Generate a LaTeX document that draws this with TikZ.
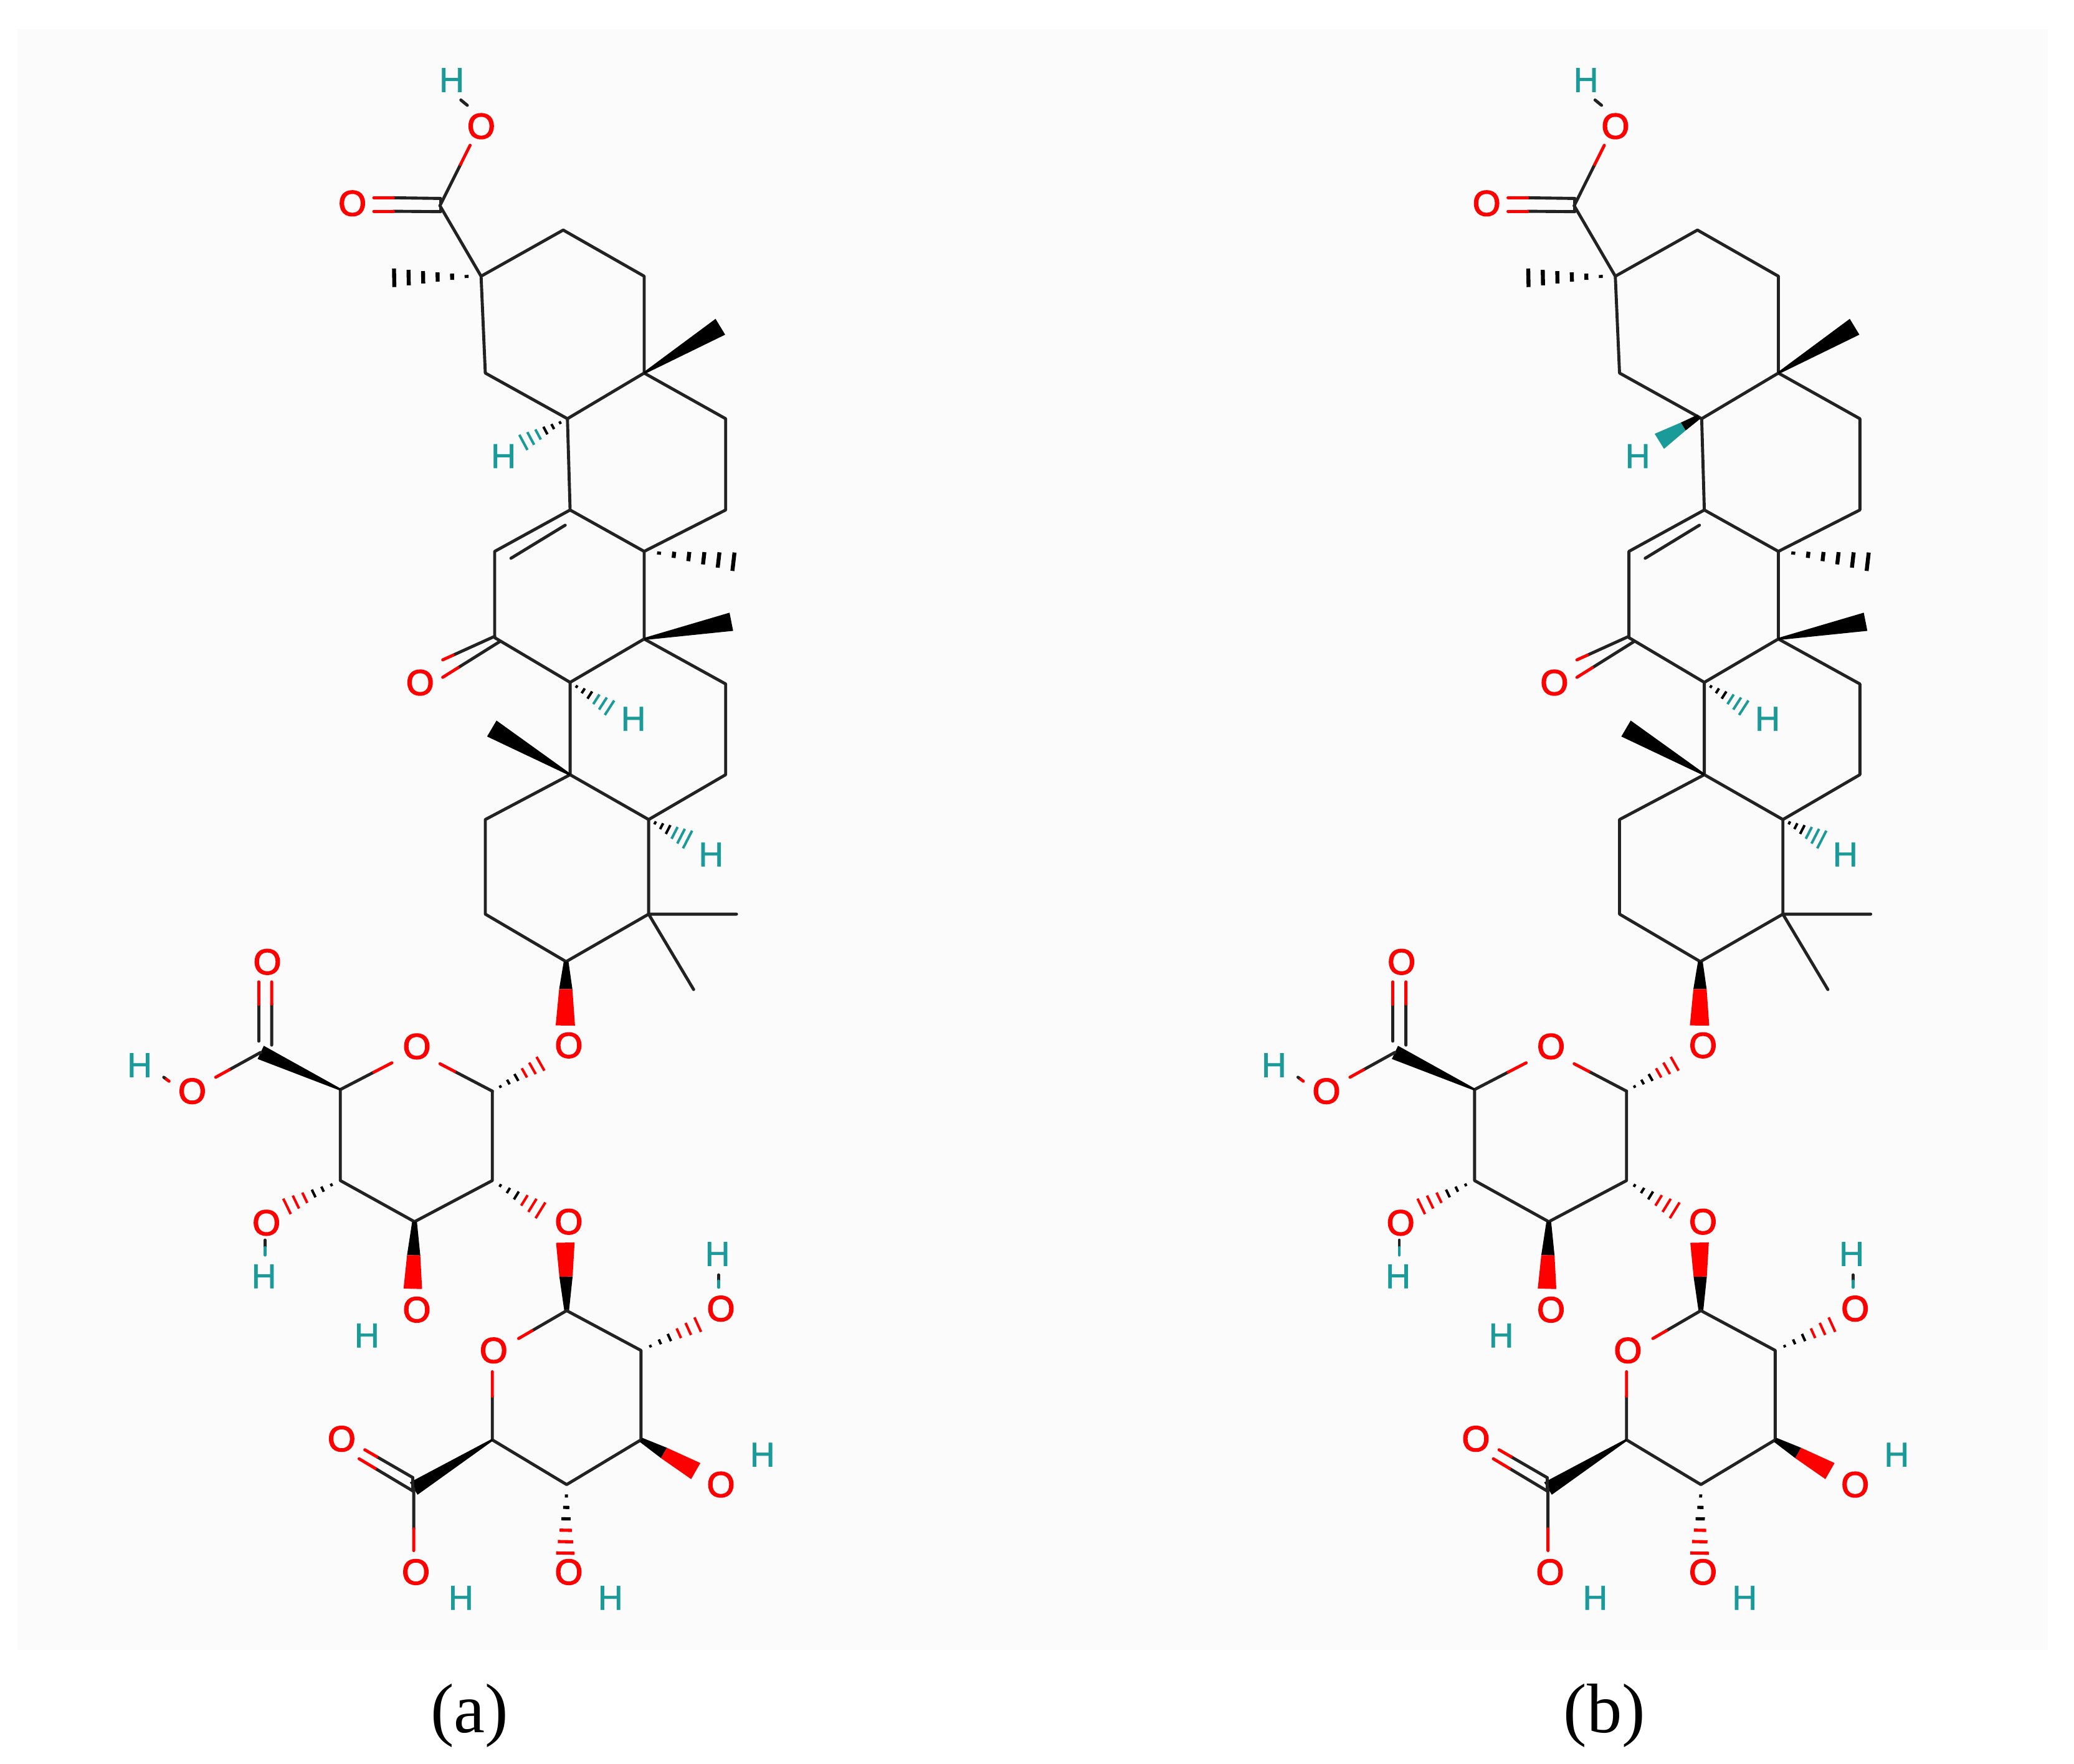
\documentclass[tikz,border=0pt]{standalone}
\usepackage{fontspec}
\setmainfont{Liberation Sans}
\newfontfamily\capfont{Liberation Serif}
\newfontfamily\ofont[FakeBold=3]{Liberation Sans}
\newfontfamily\hfont[FakeBold=1.2]{Liberation Sans}
\usetikzlibrary{calc}
\definecolor{panelc}{HTML}{FBFBFB}
\definecolor{bondc}{HTML}{222222}
\definecolor{hteal}{HTML}{1B9A9A}
\definecolor{ored}{HTML}{FF0000}
\tikzset{
  bond/.style={line width=2.3pt,draw=bondc,line cap=round,line join=round},
  oatom/.style={inner sep=0pt,text=ored,font=\ofont\fontsize{27}{27}\selectfont},
  hatom/.style={inner sep=0pt,text=hteal,font=\hfont\fontsize{26}{26}\selectfont},
  captionlabel/.style={inner sep=0pt,text=black,font=\capfont\fontsize{53}{53}\selectfont}
}
% hashed wedge: from, to, half width, strokes, far colour, stroke width
\newcommand{\hashwedge}[6]{%
  \foreach \i in {1,...,#4}{%
    \pgfmathsetmacro\hf{\i/#4}%
    \pgfmathsetmacro\hw{(#3)*\hf}%
    \ifdim\hf pt>0.5pt\def\hc{#5}\else\def\hc{black}\fi
    \draw[draw=\hc,line width=#6] ($(#1)!\hf!(#2)!\hw pt!90:(#1)$) -- ($(#1)!\hf!(#2)!\hw pt!-90:(#1)$);
  }}
% solid wedge in one colour: from, to, half width
\newcommand{\solidwedge}[3]{%
  \fill[black] ($(#1)!0.8pt!90:(#2)$) -- ($(#2)!#3!-90:(#1)$) -- ($(#2)!#3!90:(#1)$) -- ($(#1)!0.8pt!-90:(#2)$) -- cycle;}
% solid wedge in two colours: from, to, half width, half width at the split, split fraction, far colour
\newcommand{\twowedge}[6]{%
  \fill[black] ($(#1)!1.8pt!90:(#2)$) -- ($(#1)!#5!(#2)!#4!-90:(#1)$) -- ($(#1)!#5!(#2)!#4!90:(#1)$) -- ($(#1)!1.8pt!-90:(#2)$) -- cycle;
  \fill[#6] ($(#1)!#5!(#2)!#4!-90:(#1)$) -- ($(#2)!#3!-90:(#1)$) -- ($(#2)!#3!90:(#1)$) -- ($(#1)!#5!(#2)!#4!90:(#1)$) -- cycle;}
% two-colour bond: from, to, split fraction, far colour
\newcommand{\hetbond}[4]{%
  \draw[bond] (#1) -- ($(#1)!#3!(#2)$);
  \draw[bond,draw=#4] ($(#1)!#3!(#2)$) -- (#2);}
\newcommand{\molecule}[3]{%
\begin{scope}[shift={(#1,0)},name prefix=#2-]
  % carbon skeleton
  \coordinate (cx) at (332.6,155.5);
  \coordinate (q1) at (363.7,208.8);
  \coordinate (a2) at (425.8,173.9);
  \coordinate (a3) at (487,208.8);
  \coordinate (a4) at (487,282);
  \coordinate (a5) at (366.9,282);
  \coordinate (a6) at (429,316.5);
  \coordinate (b1) at (431,385.5);
  \coordinate (b2) at (548.6,316.5);
  \coordinate (b3) at (548.6,385.5);
  \coordinate (b4) at (487,416.8);
  \coordinate (c1) at (374,416.8);
  \coordinate (c2) at (374,482);
  \coordinate (c3) at (431,515.8);
  \coordinate (c4) at (487,483);
  \coordinate (d1) at (548.6,517);
  \coordinate (d2) at (548.6,585.6);
  \coordinate (d3) at (490.4,619.5);
  \coordinate (d4) at (431,585.6);
  \coordinate (e1) at (366.9,619.5);
  \coordinate (e2) at (366.9,691);
  \coordinate (e3) at (428,726.9);
  \coordinate (e4) at (490.4,691);
  \coordinate (m1) at (556.8,691);
  \coordinate (m2) at (524.4,748);
  \coordinate (m3) at (544.6,247);
  \coordinate (m4) at (298,210);
  \coordinate (m5) at (554.5,424.6);
  \coordinate (m6) at (552.9,470);
  \coordinate (m7) at (371.8,550.7);
  % sugar rings
  \coordinate (r1) at (372.2,824.8);
  \coordinate (r2) at (372.2,892.4);
  \coordinate (r3) at (313.4,923.5);
  \coordinate (r4) at (257.3,892.4);
  \coordinate (r5) at (257.3,823.6);
  \coordinate (r6) at (197.1,795.5);
  \coordinate (s1) at (428.4,990.7);
  \coordinate (s2) at (484.6,1020.8);
  \coordinate (s3) at (484.6,1088.4);
  \coordinate (s4) at (428.4,1122.2);
  \coordinate (s5) at (372.2,1088.4);
  \coordinate (s6) at (312.8,1125.2);
  % free ends of bonds next to labels
  \coordinate (x1) at (355.4,109.8);
  \coordinate (x2) at (348.4,75.6);
  \coordinate (x3) at (353.3,79.6);
  \coordinate (x4) at (427.4,775.2);
  \coordinate (x5) at (332.6,804.1);
  \coordinate (x6) at (296.3,803.4);
  \coordinate (x7) at (408.6,804.1);
  \coordinate (x8) at (408.6,914.9);
  \coordinate (x9) at (312.1,974.2);
  \coordinate (x10) at (217,911.9);
  \coordinate (x11) at (200.4,937.4);
  \coordinate (x12) at (200.4,948.7);
  \coordinate (x13) at (163.1,814.3);
  \coordinate (x14) at (123.8,814.3);
  \coordinate (x15) at (127.8,817.3);
  \coordinate (x16) at (427.4,939.3);
  \coordinate (x17) at (392.1,1011.8);
  \coordinate (x18) at (372.2,1036.9);
  \coordinate (x19) at (527.5,1001.3);
  \coordinate (x20) at (543.4,963.7);
  \coordinate (x21) at (543.4,973.1);
  \coordinate (x22) at (526,1112);
  \coordinate (x23) at (427.4,1174);
  \coordinate (x24) at (312.8,1172.1);
  \coordinate (h1) at (395.7,334.4);
  \coordinate (h2) at (460.8,535);
  \coordinate (h3) at (519.8,634.6);
  % labels
  \node[hatom] (lh1) at (341.5,60.5) {H};
  \node[oatom] (lo1) at (363.8,95.4) {O};
  \node[oatom] (lo2) at (266.4,153.7) {O};
  \node[hatom] (lh2) at (380.6,344.8) {H};
  \node[oatom] (lo3) at (317.6,516) {O};
  \node[hatom] (lh3) at (478.8,543.4) {H};
  \node[hatom] (lh4) at (537.6,645.9) {H};
  \node[oatom] (lo4) at (430,790.2) {O};
  \node[oatom] (lo5) at (315.1,791) {O};
  \node[oatom] (lo6) at (202.1,727.1) {O};
  \node[oatom] (lo7) at (145.3,824.8) {O};
  \node[hatom] (lh5) at (105.6,805.2) {H};
  \node[oatom] (lo8) at (201.4,924.3) {O};
  \node[hatom] (lh6) at (199.5,964.8) {H};
  \node[oatom] (lo9) at (315.1,990) {O};
  \node[hatom] (lh7) at (277.4,1009.5) {H};
  \node[oatom] (lo10) at (430,923.5) {O};
  \node[oatom] (lo11) at (373.2,1020.8) {O};
  \node[oatom] (lo12) at (545,989.2) {O};
  \node[hatom] (lh8) at (542.4,947.9) {H};
  \node[oatom] (lo13) at (545,1122.2) {O};
  \node[hatom] (lh9) at (576.4,1099.6) {H};
  \node[oatom] (lo14) at (430,1188.3) {O};
  \node[hatom] (lh10) at (461.5,1207.8) {H};
  \node[oatom] (lo15) at (314.4,1188.3) {O};
  \node[hatom] (lh11) at (348.5,1207.8) {H};
  \node[oatom] (lo16) at (258.3,1087.6) {O};
  % skeleton bonds
  \draw[bond] (cx) -- (q1) -- (a2) -- (a3) -- (a4) -- (a6) -- (a5) -- (q1);
  \draw[bond] (a4) -- (b2) -- (b3) -- (b4) -- (b1) -- (a6);
  \draw[bond] (b4) -- (c4) -- (c3) -- (c2) -- (c1) -- (b1);
  \draw[bond] (c4) -- (d1) -- (d2) -- (d3) -- (d4) -- (c3);
  \draw[bond] (d4) -- (e1) -- (e2) -- (e3) -- (e4) -- (d3);
  \draw[bond] (m1) -- (e4) -- (m2);
  % acid at top
  \coordinate (t1) at (333,150);
  \coordinate (t2) at (297.4,149.5);
  \coordinate (t3) at (282.6,149.5);
  \coordinate (t4) at (333,160);
  \coordinate (t5) at (297.4,159.7);
  \coordinate (t6) at (282.6,159.7);
  \draw[bond] (t1) -- (t2); \draw[bond,draw=ored] (t2) -- (t3);
  \draw[bond] (t4) -- (t5); \draw[bond,draw=ored] (t5) -- (t6);
  \draw[bond] (t1) -- (t4);
  \hetbond{cx}{x1}{0.68}{ored}
  \hetbond{x2}{x3}{0.4}{bondc}
  % inner line of C=C
  \coordinate (k1) at (427.3,397);
  \coordinate (k2) at (386.3,422);
  \draw[bond] (k1) -- (k2);
  % ketone
  \coordinate (k3) at (374,481);
  \coordinate (k4) at (334.7,498.8);
  \coordinate (k5) at (377.8,485);
  \coordinate (k6) at (334.7,512);
  \hetbond{k3}{k4}{0.8}{ored}
  \hetbond{k5}{k6}{0.73}{ored}
  % methyl wedges and hashes
  \solidwedge{a4}{m3}{7pt}
  \solidwedge{c4}{m6}{7pt}
  \solidwedge{d4}{m7}{7pt}
  \hashwedge{q1}{m4}{7}{6}{black}{3pt}
  \hashwedge{b4}{m5}{7}{6}{black}{3pt}
  % stereo hydrogens
  #3
  \hashwedge{c3}{h2}{6.5}{6}{hteal}{1.9pt}
  \hashwedge{d3}{h3}{7.5}{6}{hteal}{1.9pt}
  % link to the sugar
  \twowedge{e3}{x4}{7.3pt}{5pt}{0.43}{ored}
  % first sugar ring
  \draw[bond] (r5) -- (r4) -- (r3) -- (r2) -- (r1);
  \hetbond{r1}{x5}{0.72}{ored}
  \hetbond{r5}{x6}{0.65}{ored}
  \hashwedge{r1}{x7}{6}{6}{ored}{1.9pt}
  \hashwedge{r2}{x8}{7}{6}{ored}{1.9pt}
  \hashwedge{r4}{x10}{6.5}{6}{ored}{1.9pt}
  \twowedge{r3}{x9}{7pt}{5pt}{0.5}{ored}
  \solidwedge{r5}{r6}{5.5pt}
  % acid of first ring
  \coordinate (u1) at (195.5,787);
  \coordinate (u2) at (195.5,742.2);
  \coordinate (u3) at (205.4,790);
  \coordinate (u4) at (205.4,742.2);
  \hetbond{u1}{u2}{0.62}{ored}
  \hetbond{u3}{u4}{0.65}{ored}
  \hetbond{r6}{x13}{0.7}{ored}
  \hetbond{x14}{x15}{0.5}{ored}
  \hetbond{x11}{x12}{0.5}{hteal}
  % second sugar ring
  \twowedge{s1}{x16}{7pt}{5pt}{0.5}{ored}
  \draw[bond] (s1) -- (s2) -- (s3) -- (s4) -- (s5);
  \hetbond{s1}{x17}{0.72}{ored}
  \hetbond{s5}{x18}{0.64}{ored}
  \hashwedge{s2}{x19}{6}{6}{ored}{1.9pt}
  \hetbond{x20}{x21}{0.5}{hteal}
  \twowedge{s3}{x22}{7pt}{4.5pt}{0.42}{ored}
  \hashwedge{s4}{x23}{7}{6}{ored}{2.4pt}
  \solidwedge{s5}{s6}{5.5pt}
  % acid of second ring
  \hetbond{s6}{x24}{0.65}{ored}
  \coordinate (v1) at (312.1,1116.9);
  \coordinate (v2) at (275.8,1095.9);
  \coordinate (v3) at (312.1,1127);
  \coordinate (v4) at (271.5,1102.7);
  \hetbond{v1}{v2}{0.75}{ored}
  \hetbond{v3}{v4}{0.7}{ored}
  \draw[bond] (v1) -- (v3);
\end{scope}}
\begin{document}
\begin{tikzpicture}[x=1pt,y=-1pt]
  \useasboundingbox (0,0) rectangle (1568,1333);
  \fill[white] (0,0) rectangle (1568,1333);
  \fill[panelc] (13,22) rectangle (1548,1247);
  \molecule{0}{pa}{\hashwedge{a6}{h1}{6.5}{6}{hteal}{1.9pt}}
  \molecule{857.5}{pb}{%
    \coordinate (h1b) at (397,333.6);
    \coordinate (a6b) at (427,315);
    \twowedge{a6b}{h1b}{6.7pt}{3.5pt}{0.4}{hteal}}
  \node[captionlabel] (capa) at (355,1297) {(a)};
  \node[captionlabel] (capb) at (1213,1297) {(b)};
\end{tikzpicture}
\end{document}
